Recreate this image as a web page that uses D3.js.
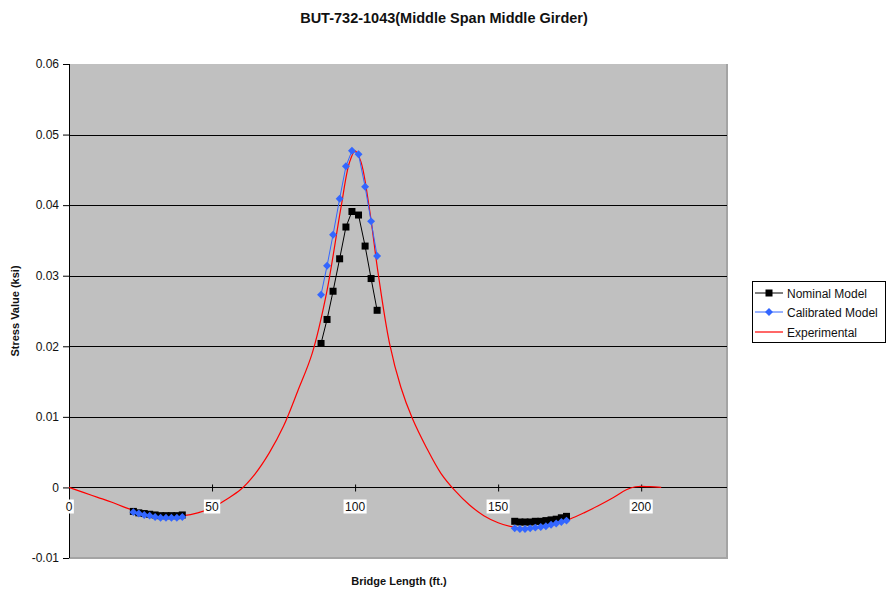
<!DOCTYPE html>
<html>
<head>
<meta charset="utf-8">
<script src="https://cdn.jsdelivr.net/npm/d3@7"></script>
<style>
  body { margin: 0; background: #fff; }
  svg { font-family: "Liberation Sans", Arial, sans-serif; }
  .axis path { display: none; }
</style>
</head>
<body>
<div id="chart"></div>
<script>
// chart data
const title = 'BUT-732-1043(Middle Span Middle Girder)';
const xTicks = [0, 50, 100, 150, 200];
const yTicks = [-0.01, 0, 0.01, 0.02, 0.03, 0.04, 0.05, 0.06];
const yTickLabels = ['-0.01', '0', '0.01', '0.02', '0.03', '0.04', '0.05', '0.06'];
const seriesNames = ['Nominal Model', 'Calibrated Model', 'Experimental'];

// model load positions (null = gap between clusters)
const modelX = [22.5, 24.4, 26.3, 28.2, 30.1, 32.0, 33.9, 35.8, 37.7, 39.6, null,
  88.1, 90.2, 92.3, 94.6, 96.8, 98.9, 101.2, 103.5, 105.6, 107.7, null,
  155.8, 157.6, 159.4, 161.2, 163.0, 164.9, 166.7, 168.5, 170.3, 172.1, 173.9];
const nominal = [-0.0034, -0.0036, -0.0037, -0.0038, -0.0039, -0.0040, -0.0040, -0.0040, -0.0040, -0.0039, null,
  0.0204, 0.0238, 0.0278, 0.0324, 0.0369, 0.0391, 0.0386, 0.0342, 0.0296, 0.0251, null,
  -0.0048, -0.0049, -0.0049, -0.0049, -0.0048, -0.0048, -0.0047, -0.0046, -0.0045, -0.0043, -0.0041];
const calibrated = [-0.0035, -0.0037, -0.0039, -0.0040, -0.0042, -0.0043, -0.0043, -0.0043, -0.0043, -0.0042, null,
  0.0273, 0.0314, 0.0358, 0.0409, 0.0455, 0.0477, 0.0472, 0.0426, 0.0377, 0.0328, null,
  -0.0058, -0.0059, -0.0059, -0.0058, -0.0057, -0.0056, -0.0055, -0.0053, -0.0051, -0.0049, -0.0047];

// experimental curve
const expX = [0, 5, 10, 15, 20, 25, 30, 35, 40, 45, 50, 55, 60, 65, 70, 75, 80, 85, 90, 95, 98, 100, 102,
  105, 108, 112, 116, 120, 125, 130, 135, 140, 145, 150, 155, 160, 165, 170, 175, 180, 185, 190, 195, 198, 203, 207];
const expY = [0, -0.0007, -0.0014, -0.0021, -0.0029, -0.0035, -0.0039, -0.0041, -0.0040, -0.0036, -0.0029,
  -0.0017, -0.0003, 0.0019, 0.0049, 0.0087, 0.0137, 0.0190, 0.0275, 0.0395, 0.0460, 0.0477, 0.0462,
  0.0395, 0.0305, 0.0205, 0.0142, 0.0098, 0.0056, 0.0020, -0.0005, -0.0025, -0.0040, -0.0050, -0.0056,
  -0.0058, -0.0057, -0.0052, -0.0045, -0.0036, -0.0026, -0.0015, -0.0003, 0.0001, 0.0001, 0.0000];

const colors = {nominal: '#000000', calibrated: '#3366ff', experimental: '#ff0000'};

// set up dimensions
const width = 886, height = 592;
const margin = {top: 64, left: 69, right: 159, bottom: 34};
const innerW = width - margin.left - margin.right;
const innerH = height - margin.top - margin.bottom;

const svg = d3.select('#chart').append('svg')
  .attr('width', width)
  .attr('height', height);

const chart = svg.append('g')
  .attr('transform', `translate(${margin.left},${margin.top})`);

const xScale = d3.scaleLinear().domain([0, 230]).range([0, innerW]);
const yScale = d3.scaleLinear().domain([-0.01, 0.06]).range([innerH, 0]);

// plot background
chart.append('rect')
  .attr('width', innerW)
  .attr('height', innerH)
  .attr('fill', '#c0c0c0');

// right/bottom edge of plot area
chart.append('path')
  .attr('d', `M${innerW},0V${innerH}H0`)
  .attr('fill', 'none')
  .attr('stroke', '#a4a4a4')
  .attr('stroke-width', 2);

// gridlines
chart.append('g')
  .selectAll('line')
  .data(yTicks.filter(d => d > 0 && d < 0.06))
  .join('line')
  .attr('x1', 0)
  .attr('x2', innerW)
  .attr('y1', d => Math.round(yScale(d)) + 0.5)
  .attr('y2', d => Math.round(yScale(d)) + 0.5)
  .attr('stroke', '#000')
  .attr('stroke-width', 1);

// y axis
const yAxis = d3.axisLeft(yScale)
  .tickValues(yTicks)
  .tickFormat((d, i) => yTickLabels[i])
  .tickSize(6)
  .tickPadding(4);

const yAxisGroup = chart.append('g')
  .attr('class', 'axis y-axis')
  .call(yAxis);
yAxisGroup.selectAll('text')
  .attr('font-size', 12)
  .attr('fill', '#111');
yAxisGroup.selectAll('line').attr('stroke', '#000');

chart.append('line')
  .attr('x1', 0.5).attr('x2', 0.5)
  .attr('y1', 0).attr('y2', innerH)
  .attr('stroke', '#000');

// x axis on zero line
const y0 = Math.round(yScale(0)) + 0.5;
const xAxis = d3.axisBottom(xScale)
  .tickValues(xTicks)
  .tickFormat('')
  .tickSize(4);

const xAxisGroup = chart.append('g')
  .attr('class', 'axis x-axis')
  .attr('transform', `translate(0,${y0})`)
  .call(xAxis);
xAxisGroup.selectAll('line').attr('stroke', '#000').attr('y1', -3);

chart.append('line')
  .attr('x1', 0).attr('x2', innerW)
  .attr('y1', y0).attr('y2', y0)
  .attr('stroke', '#000');

// experimental curve
const expData = expX.map((x, i) => ({x: x, y: expY[i]}));
chart.append('path')
  .datum(expData)
  .attr('fill', 'none')
  .attr('stroke', colors.experimental)
  .attr('stroke-width', 1.2)
  .attr('d', d3.line()
    .x(d => xScale(d.x))
    .y(d => yScale(d.y))
    .curve(d3.curveCatmullRom.alpha(0.5)));

// model series
const nominalData = modelX.map((x, i) => ({x: x, y: nominal[i]}));
const calibratedData = modelX.map((x, i) => ({x: x, y: calibrated[i]}));

const modelLine = d3.line()
  .defined(d => d.x != null && d.y != null)
  .x(d => xScale(d.x))
  .y(d => yScale(d.y));

chart.append('path')
  .datum(nominalData)
  .attr('fill', 'none')
  .attr('stroke', colors.nominal)
  .attr('stroke-width', 1)
  .attr('d', modelLine);

chart.selectAll('.nominal-point')
  .data(nominalData.filter(d => d.x != null))
  .join('rect')
  .attr('class', 'nominal-point')
  .attr('x', d => xScale(d.x) - 3.5)
  .attr('y', d => yScale(d.y) - 3.5)
  .attr('width', 7)
  .attr('height', 7)
  .attr('fill', colors.nominal);

chart.append('path')
  .datum(calibratedData)
  .attr('fill', 'none')
  .attr('stroke', colors.calibrated)
  .attr('stroke-width', 1)
  .attr('d', modelLine);

const diamond = d3.symbol().type(d3.symbolDiamond2).size(40);
chart.selectAll('.calibrated-point')
  .data(calibratedData.filter(d => d.x != null))
  .join('path')
  .attr('class', 'calibrated-point')
  .attr('transform', d => `translate(${xScale(d.x)},${yScale(d.y)})`)
  .attr('d', diamond)
  .attr('fill', colors.calibrated);

// x tick labels with white boxes
const xLabels = chart.append('g').attr('class', 'x-labels');
xTicks.forEach(t => {
  const label = String(t);
  const w = label.length * 6.7 + 3;
  const cx = xScale(t);
  xLabels.append('rect')
    .attr('x', cx - w / 2)
    .attr('y', y0 + 12)
    .attr('width', w)
    .attr('height', 14)
    .attr('fill', '#fff');
  xLabels.append('text')
    .attr('x', cx)
    .attr('y', y0 + 23.5)
    .attr('text-anchor', 'middle')
    .attr('font-size', 12)
    .attr('fill', '#111')
    .text(label);
});

// title and axis labels
svg.append('text')
  .attr('x', 444)
  .attr('y', 23)
  .attr('text-anchor', 'middle')
  .attr('font-size', 14.5)
  .attr('font-weight', 'bold')
  .attr('fill', '#111')
  .text(title);

svg.append('text')
  .attr('x', 399)
  .attr('y', 585)
  .attr('text-anchor', 'middle')
  .attr('font-size', 11)
  .attr('font-weight', 'bold')
  .attr('fill', '#111')
  .text('Bridge Length (ft.)');

svg.append('text')
  .attr('transform', 'translate(19,311) rotate(-90)')
  .attr('text-anchor', 'middle')
  .attr('font-size', 11)
  .attr('font-weight', 'bold')
  .attr('fill', '#111')
  .text('Stress Value (ksi)');

// legend
const legend = svg.append('g').attr('transform', 'translate(752,281)');
legend.append('rect')
  .attr('x', 0.5).attr('y', 0.5)
  .attr('width', 133).attr('height', 61)
  .attr('fill', '#fff')
  .attr('stroke', '#000');

const legendKeys = ['nominal', 'calibrated', 'experimental'];
const legendY = [12, 31, 51];
legendKeys.forEach((k, i) => {
  const g = legend.append('g').attr('transform', `translate(0,${legendY[i]})`);
  g.append('line')
    .attr('x1', 3).attr('x2', 31)
    .attr('stroke', colors[k])
    .attr('stroke-width', k === 'experimental' ? 1.2 : 1);
  if (k === 'nominal') {
    g.append('rect').attr('x', 13.5).attr('y', -3.5).attr('width', 7).attr('height', 7).attr('fill', colors[k]);
  } else if (k === 'calibrated') {
    g.append('path').attr('transform', 'translate(17,0)').attr('d', diamond).attr('fill', colors[k]);
  }
  g.append('text')
    .attr('x', 35)
    .attr('y', 4.5)
    .attr('font-size', 12)
    .attr('fill', '#111')
    .text(seriesNames[i]);
});
</script>
</body>
</html>
